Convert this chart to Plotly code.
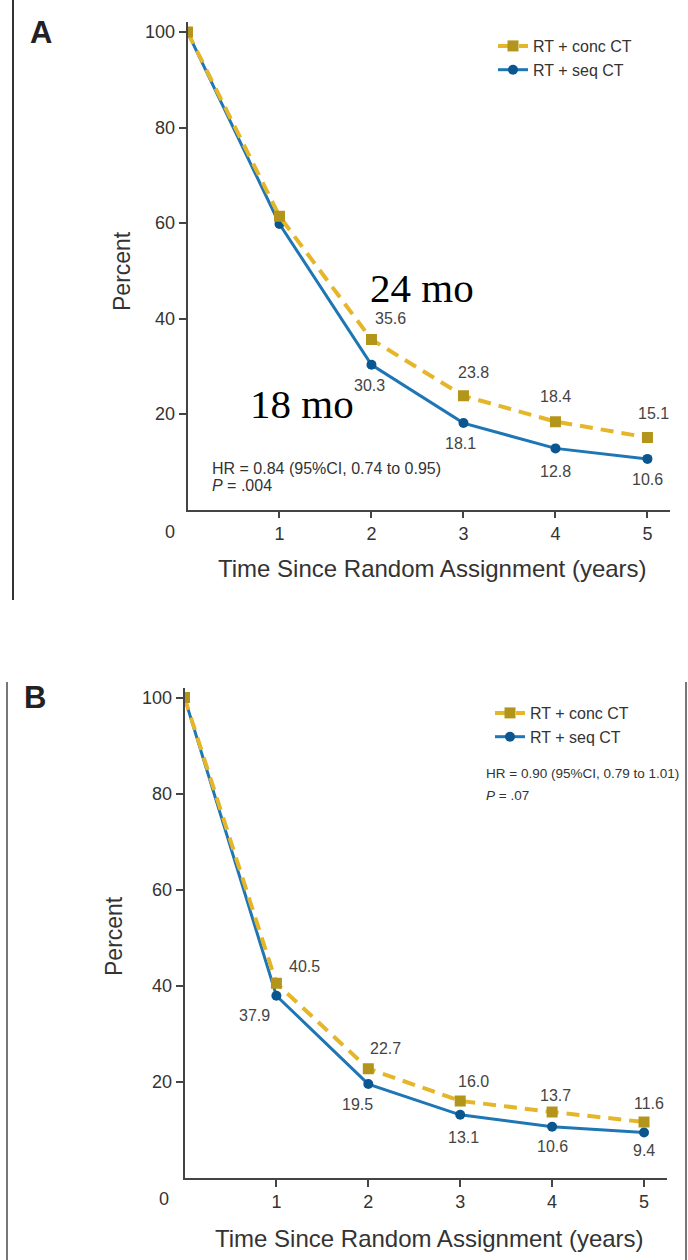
import plotly.graph_objects as go

# ---------------- data ----------------
YEARS = [0, 1, 2, 3, 4, 5]
A_CONC = [100, 61.4, 35.6, 23.8, 18.4, 15.1]
A_SEQ = [100, 59.8, 30.3, 18.1, 12.8, 10.6]
B_CONC = [100, 40.5, 22.7, 16.0, 13.7, 11.6]
B_SEQ = [100, 37.9, 19.5, 13.1, 10.6, 9.4]
SERIES_NAMES = ["RT + conc CT", "RT + seq CT"]
X_TICKS = [1, 2, 3, 4, 5]
Y_TICKS = [20, 40, 60, 80, 100]
A_LABEL_YEARS = [2, 3, 4, 5]
B_LABEL_YEARS = [1, 2, 3, 4, 5]
A_STATS = ["HR = 0.84 (95%CI, 0.74 to 0.95)", "<i>P</i> = .004"]
B_STATS = ["HR = 0.90 (95%CI, 0.79 to 1.01)", "<i>P</i> = .07"]
X_TITLE = "Time Since Random Assignment (years)"
Y_TITLE = "Percent"

# ---------------- styles / positions ----------------
W, H = 688, 1260
SANS = "Liberation Sans, Arial, sans-serif"
SERIF = "Liberation Serif, Times New Roman, serif"
TXT = "#333333"
AX = "#444444"
CONC_LINE = "#E5B62A"
CONC_MARK = "#B3951C"
SEQ_LINE = "#1F76B5"
SEQ_MARK = "#0C5690"

# label pixel offsets (dx, dy) relative to the point, dy positive = down
A_CONC_OFF = {2: (19, -21), 3: (10, -23), 4: (0, -25), 5: (6, -24)}
A_SEQ_OFF = {2: (-2, 21), 3: (-3, 20), 4: (0, 23), 5: (0, 21)}
B_CONC_OFF = {1: (28, -17), 2: (17, -20), 3: (13, -19), 4: (3, -16), 5: (5, -19)}
B_SEQ_OFF = {1: (-22, 20), 2: (-11, 20), 3: (3, 23), 4: (0, 20), 5: (0, 18)}


def px(x):
    return x / W


def py(y):
    return 1 - y / H


fig = go.Figure()


def add_panel(conc, seq, xa, ya, legend):
    fig.add_trace(go.Scatter(
        x=YEARS, y=seq, name=SERIES_NAMES[1], mode="lines+markers",
        line=dict(color=SEQ_LINE, width=3),
        marker=dict(symbol="circle", size=10, color=SEQ_MARK),
        xaxis=xa, yaxis=ya, legend=legend, legendrank=2, hoverinfo="skip"))
    fig.add_trace(go.Scatter(
        x=YEARS, y=conc, name=SERIES_NAMES[0], mode="lines+markers",
        line=dict(color=CONC_LINE, width=4, dash="13px,8px"),
        marker=dict(symbol="square", size=11, color=CONC_MARK),
        xaxis=xa, yaxis=ya, legend=legend, legendrank=1, hoverinfo="skip"))


add_panel(A_CONC, A_SEQ, "x", "y", "legend")
add_panel(B_CONC, B_SEQ, "x2", "y2", "legend2")

axis_common = dict(showline=True, linecolor=AX, linewidth=1.6, showgrid=False,
                   zeroline=False, ticks="outside", ticklen=7, tickwidth=1.6,
                   tickcolor=AX, tickfont=dict(family=SANS, size=18, color=TXT))

fig.update_layout(
    width=W, height=H, margin=dict(l=0, r=0, t=0, b=0),
    paper_bgcolor="white", plot_bgcolor="white",
    xaxis=dict(domain=[px(187.5), px(670)], range=[0, 5.245], tickvals=X_TICKS,
               anchor="y", **axis_common),
    yaxis=dict(domain=[py(509.5), py(22)], range=[0, 102.1], tickvals=Y_TICKS,
               anchor="x", **axis_common),
    xaxis2=dict(domain=[px(184.5), px(667)], range=[0, 5.25], tickvals=X_TICKS,
                anchor="y2", **axis_common),
    yaxis2=dict(domain=[py(1177.7), py(688)], range=[0, 102], tickvals=Y_TICKS,
                anchor="x2", **axis_common),
    legend=dict(x=px(493), y=py(29), xanchor="left", yanchor="top",
                bgcolor="rgba(0,0,0,0)", font=dict(family=SANS, size=16, color=TXT),
                itemwidth=30, tracegroupgap=0),
    legend2=dict(x=px(490), y=py(696), xanchor="left", yanchor="top",
                 bgcolor="rgba(0,0,0,0)", font=dict(family=SANS, size=16, color=TXT),
                 itemwidth=30, tracegroupgap=0),
    showlegend=True,
)

ann = []


def data_labels(values, label_years, offs, xref, yref):
    for yr in label_years:
        v = values[YEARS.index(yr)]
        dx, dy = offs[yr]
        ann.append(dict(x=yr, y=v, xref=xref, yref=yref, text=f"{v:.1f}",
                        showarrow=False, xshift=dx, yshift=-dy,
                        font=dict(family=SANS, size=16, color="#444444")))


data_labels(A_CONC, A_LABEL_YEARS, A_CONC_OFF, "x", "y")
data_labels(A_SEQ, A_LABEL_YEARS, A_SEQ_OFF, "x", "y")
data_labels(B_CONC, B_LABEL_YEARS, B_CONC_OFF, "x2", "y2")
data_labels(B_SEQ, B_LABEL_YEARS, B_SEQ_OFF, "x2", "y2")


def paper_text(text, x, y, size, family=SANS, color=TXT, xanchor="center",
               textangle=0):
    ann.append(dict(x=px(x), y=py(y), xref="paper", yref="paper", text=text,
                    showarrow=False, xanchor=xanchor, yanchor="middle",
                    textangle=textangle, font=dict(family=family, size=size, color=color)))


# panel letters
paper_text("<b>A</b>", 41, 32, 31, color="#222222")
paper_text("<b>B</b>", 35, 697, 31, color="#222222")
# origin zero labels
paper_text("0", 170, 532, 18)
paper_text("0", 164, 1199, 18)
# axis titles
paper_text(X_TITLE, 432, 569, 24)
paper_text(X_TITLE, 429, 1238, 24)
paper_text(Y_TITLE, 122, 271, 23, textangle=-90)
paper_text(Y_TITLE, 114, 936, 23, textangle=-90)
# stats
paper_text(A_STATS[0], 210, 468, 16, xanchor="left")
paper_text(A_STATS[1], 210, 486, 16, xanchor="left")
paper_text(B_STATS[0], 484, 773, 13.5, xanchor="left")
paper_text(B_STATS[1], 484, 795, 13.5, xanchor="left")
# big serif notes
paper_text("24 mo", 422, 288, 41, family=SERIF, color="black")
paper_text("18 mo", 302, 404, 41, family=SERIF, color="black")

fig.update_layout(annotations=ann)

# panel frame lines
shapes = [
    dict(type="line", xref="paper", yref="paper", x0=px(13), x1=px(13),
         y0=py(0), y1=py(600), line=dict(color="#333333", width=2)),
    dict(type="line", xref="paper", yref="paper", x0=px(7), x1=px(7),
         y0=py(682), y1=py(1260), line=dict(color="#777777", width=2)),
    dict(type="line", xref="paper", yref="paper", x0=px(686), x1=px(686),
         y0=py(682), y1=py(1260), line=dict(color="#777777", width=2)),
]
fig.update_layout(shapes=shapes)

fig.write_html("out.html")
